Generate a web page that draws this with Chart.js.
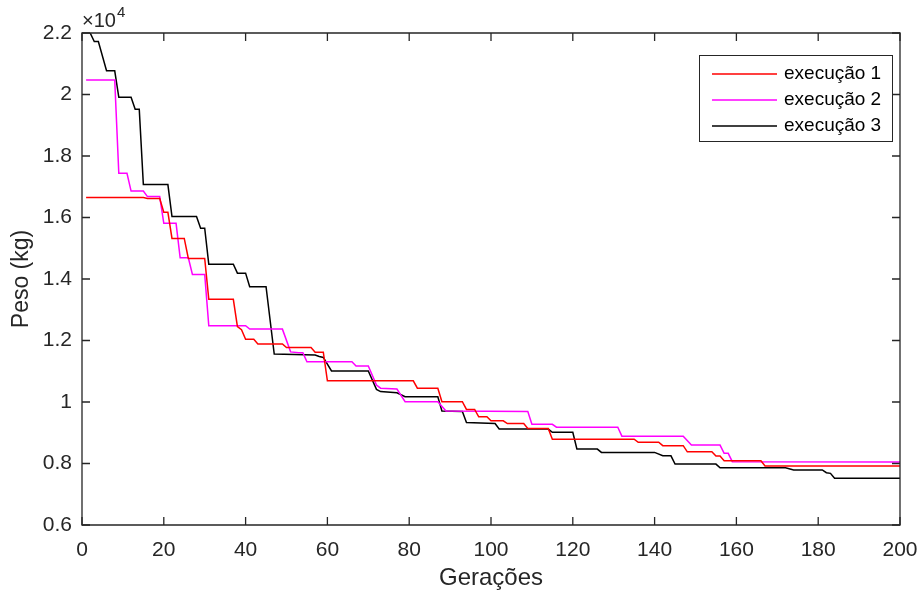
<!DOCTYPE html>
<html>
<head>
<meta charset="utf-8">
<script src="https://cdn.jsdelivr.net/npm/chart.js@4"></script>
<style>
  html, body { margin: 0; padding: 0; background: #ffffff; }
  #wrap { width: 918px; height: 599px; position: relative; }
</style>
</head>
<body>
<div id="wrap"><canvas id="c" width="918" height="599"></canvas></div>
<script>
// ---- data (generation, weight in kg) ----
const seriesLabels = ['execução 1', 'execução 2', 'execução 3'];
const seriesColors = ['#ff0000', '#ff00ff', '#000000'];

const gen1 = [1, 15, 16, 19, 20, 21, 22, 25, 26, 30, 31, 37, 38, 39, 40, 42, 43, 49, 50, 56, 57, 59, 60, 81, 82, 87, 88, 93, 94, 96, 97, 99, 100, 103, 104, 108, 109, 114, 115, 135, 136, 141, 142, 147, 148, 154, 155, 156, 157, 166, 167, 200];
const val1 = [16650, 16650, 16620, 16620, 16170, 16170, 15320, 15320, 14670, 14670, 13340, 13340, 12450, 12350, 12040, 12040, 11890, 11890, 11770, 11770, 11620, 11620, 10690, 10690, 10450, 10450, 10010, 10010, 9760, 9760, 9520, 9520, 9390, 9390, 9300, 9300, 9140, 9140, 8790, 8790, 8690, 8690, 8580, 8580, 8380, 8380, 8240, 8240, 8090, 8090, 7920, 7920];

const gen2 = [1, 8, 9, 11, 12, 15, 16, 19, 20, 23, 24, 26, 27, 30, 31, 40, 41, 49, 51, 53, 54, 55, 66, 67, 70, 72, 73, 77, 79, 87, 89, 109, 110, 115, 116, 131, 132, 147, 149, 156, 157, 158, 159, 200];
const val2 = [20470, 20470, 17440, 17440, 16860, 16860, 16680, 16680, 15810, 15810, 14690, 14690, 14150, 14150, 12480, 12480, 12370, 12370, 11630, 11600, 11600, 11310, 11310, 11170, 11170, 10550, 10450, 10420, 10010, 10010, 9710, 9690, 9275, 9275, 9180, 9180, 8890, 8890, 8600, 8600, 8330, 8330, 8060, 8050];

const gen3 = [1, 2, 3, 4, 6, 8, 9, 12, 13, 14, 15, 21, 22, 28, 29, 30, 31, 37, 38, 40, 41, 45, 47, 57, 58, 59, 61, 70, 72, 73, 77, 79, 87, 88, 93, 94, 101, 102, 114, 115, 120, 121, 126, 127, 140, 142, 144, 145, 155, 156, 172, 174, 181, 182, 183, 184, 200];
const val3 = [22400, 22000, 21720, 21720, 20770, 20770, 19910, 19910, 19520, 19520, 17070, 17070, 16030, 16030, 15650, 15650, 14480, 14480, 14190, 14190, 13750, 13750, 11560, 11530, 11480, 11450, 11010, 11010, 10410, 10340, 10300, 10170, 10170, 9710, 9690, 9330, 9300, 9120, 9120, 9015, 9015, 8470, 8470, 8360, 8360, 8250, 8250, 7980, 7980, 7860, 7860, 7790, 7790, 7700, 7680, 7520, 7520];

const xTickValues = [0, 20, 40, 60, 80, 100, 120, 140, 160, 180, 200];
const yTickValues = [6000, 8000, 10000, 12000, 14000, 16000, 18000, 20000, 22000];
const yExponentText = '×10';
const yExponentPower = '4';

const gens = [gen1, gen2, gen3];
const vals = [val1, val2, val3];

const AX = '#262626';
const FONT = '"Liberation Sans", Arial, Helvetica, sans-serif';

const datasets = gens.map((g, i) => ({
  label: seriesLabels[i],
  data: g.map((x, k) => ({ x: x, y: vals[i][k] })),
  borderColor: seriesColors[i],
  backgroundColor: seriesColors[i],
  borderWidth: 1.5,
  pointRadius: 0,
  tension: 0,
  showLine: true,
  fill: false
}));

const framePlugin = {
  id: 'frame',
  afterDraw(chart) {
    const ctx = chart.ctx;
    const a = chart.chartArea;
    const xs = chart.scales.x, ys = chart.scales.y;
    ctx.save();
    ctx.strokeStyle = AX;
    ctx.lineWidth = 1.3;
    ctx.beginPath();
    ctx.rect(a.left, a.top, a.right - a.left, a.bottom - a.top);
    ctx.stroke();
    const tl = 8;
    ctx.beginPath();
    xTickValues.forEach(v => {
      const px = xs.getPixelForValue(v);
      ctx.moveTo(px, a.bottom); ctx.lineTo(px, a.bottom - tl);
      ctx.moveTo(px, a.top); ctx.lineTo(px, a.top + tl);
    });
    yTickValues.forEach(v => {
      const py = ys.getPixelForValue(v);
      ctx.moveTo(a.left, py); ctx.lineTo(a.left + tl, py);
      ctx.moveTo(a.right, py); ctx.lineTo(a.right - tl, py);
    });
    ctx.stroke();

    // exponent label
    ctx.fillStyle = AX;
    ctx.textBaseline = 'alphabetic';
    ctx.textAlign = 'left';
    ctx.font = '20px ' + FONT;
    ctx.fillText(yExponentText, a.left, a.top - 6);
    const w = ctx.measureText(yExponentText).width;
    ctx.font = '15px ' + FONT;
    ctx.fillText(yExponentPower, a.left + w + 1, a.top - 16);

    // legend
    const lx = 699, ly = 55, lw = 193, lh = 86;
    ctx.fillStyle = '#ffffff';
    ctx.fillRect(lx, ly, lw, lh);
    ctx.strokeStyle = AX;
    ctx.lineWidth = 1;
    ctx.strokeRect(lx + 0.5, ly + 0.5, lw, lh);
    ctx.font = '19px ' + FONT;
    ctx.textBaseline = 'middle';
    chart.data.datasets.forEach((ds, i) => {
      const y = 74 + i * 26;
      ctx.strokeStyle = ds.borderColor;
      ctx.lineWidth = 1.3;
      ctx.beginPath();
      ctx.moveTo(712, y); ctx.lineTo(777, y);
      ctx.stroke();
      ctx.fillStyle = '#000000';
      ctx.fillText(ds.label, 784, y);
    });
    ctx.restore();
  }
};

new Chart(document.getElementById('c'), {
  type: 'scatter',
  data: { datasets: datasets },
  options: {
    responsive: false,
    animation: false,
    layout: { padding: { left: 0, top: 33, right: 18, bottom: 0 } },
    plugins: { legend: { display: false }, tooltip: { enabled: false } },
    scales: {
      x: {
        type: 'linear', min: 0, max: 200,
        afterFit(s) { s.height = 74; s.paddingLeft = 0; s.paddingRight = 0; },
        afterBuildTicks(s) { s.ticks = xTickValues.map(v => ({ value: v })); },
        grid: { display: false, drawTicks: false },
        border: { display: false },
        ticks: { color: AX, font: { family: FONT, size: 21 }, padding: 13, maxRotation: 0,
                 callback: v => String(v) },
        title: { display: true, text: 'Gerações', color: AX,
                 font: { family: FONT, size: 24 }, padding: { top: 0, bottom: 6 } }
      },
      y: {
        type: 'linear', min: 6000, max: 22000,
        afterFit(s) { s.width = 82; s.paddingTop = 0; s.paddingBottom = 0; },
        afterBuildTicks(s) { s.ticks = yTickValues.map(v => ({ value: v })); },
        grid: { display: false, drawTicks: false },
        border: { display: false },
        ticks: { color: AX, font: { family: FONT, size: 21 }, padding: 10,
                 callback: v => String(Number((v / 10000).toFixed(1))) },
        title: { display: true, text: 'Peso (kg)', color: AX,
                 font: { family: FONT, size: 23 }, padding: { top: 8, bottom: 0 } }
      }
    }
  },
  plugins: [framePlugin]
});
</script>
</body>
</html>
